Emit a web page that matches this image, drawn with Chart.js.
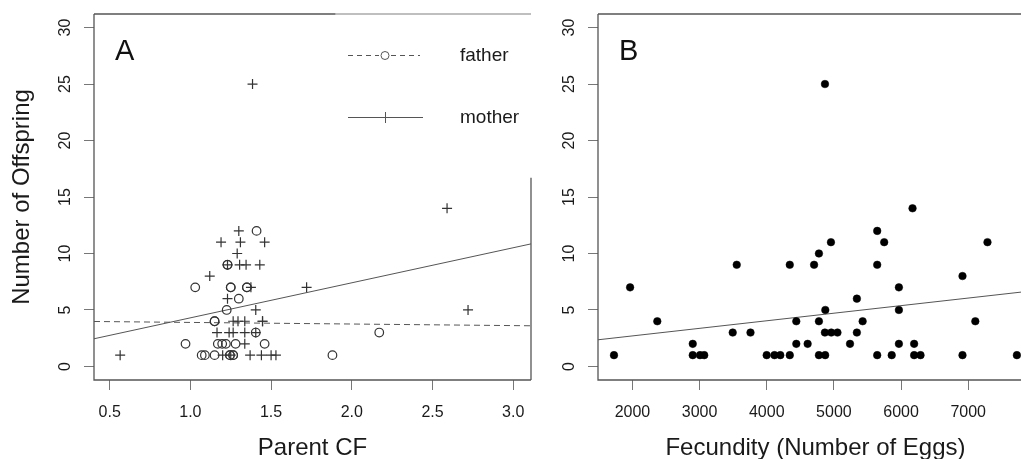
<!DOCTYPE html>
<html><head><meta charset="utf-8">
<script src="https://cdn.jsdelivr.net/npm/chart.js@4.4.1/dist/chart.umd.min.js"></script>
<style>
html,body{margin:0;padding:0;background:#fff;overflow:hidden;width:1021px;height:459px;}
#wrap{position:relative;width:1021px;height:459px;overflow:hidden;background:#fff;}
#cA{position:absolute;left:0;top:0;}
#cB{position:absolute;left:545px;top:0;}
</style></head><body>
<div id="wrap"><canvas id="cA" width="545" height="459"></canvas><canvas id="cB" width="505" height="459"></canvas></div>
<script>
// ---- Panel A data ----
const fatherCF = [1.41, 1.23, 1.23, 1.03, 1.25, 1.25, 1.35, 1.35, 1.30, 1.225, 1.15, 1.15, 1.405, 2.17, 0.97, 1.17, 1.197, 1.22, 1.28, 1.46, 1.07, 1.09, 1.15, 1.245, 1.245, 1.265, 1.265, 1.88];
const fatherOffspring = [12, 9, 9, 7, 7, 7, 7, 7, 6, 5, 4, 4, 3, 3, 2, 2, 2, 2, 2, 2, 1, 1, 1, 1, 1, 1, 1, 1];
const motherCF = [1.385, 2.59, 1.30, 1.19, 1.31, 1.46, 1.29, 1.23, 1.305, 1.345, 1.43, 1.12, 1.375, 1.72, 1.23, 1.405, 2.72, 1.265, 1.295, 1.337, 1.447, 1.447, 1.165, 1.24, 1.265, 1.337, 1.405, 1.337, 0.565, 1.20, 1.25, 1.37, 1.44, 1.50, 1.53];
const motherOffspring = [25, 14, 12, 11, 11, 11, 10, 9, 9, 9, 9, 8, 7, 7, 6, 5, 5, 4, 4, 4, 4, 4, 3, 3, 3, 3, 3, 2, 1, 1, 1, 1, 1, 1, 1];
const fatherFitX = [0.403, 3.11];
const fatherFitY = [3.98, 3.60];
const motherFitX = [0.403, 3.11];
const motherFitY = [2.45, 10.85];
const cfTicks = [0.5, 1.0, 1.5, 2.0, 2.5, 3.0];

// ---- Panel B data ----
const fecundity = [1725, 1965, 2370, 2898, 2898, 3006, 3069, 3493, 3553, 3758, 3999, 4115, 4202, 4343, 4343, 4440, 4440, 4609, 4705, 4777, 4777, 4777, 4867, 4872, 4866, 4870, 4956, 4961, 5053, 5240, 5342, 5342, 5428, 5645, 5645, 5645, 5749, 5861, 5968, 5968, 5968, 6171, 6195, 6195, 6290, 6915, 6915, 7106, 7287, 7725];
const fecundityOffspring = [1, 7, 4, 2, 1, 1, 1, 3, 9, 3, 1, 1, 1, 1, 9, 4, 2, 2, 9, 10, 4, 1, 25, 5, 3, 1, 11, 3, 3, 2, 6, 3, 4, 12, 9, 1, 11, 1, 7, 5, 2, 14, 2, 1, 1, 8, 1, 4, 11, 1];
const fecFitX = [1487, 7965];
const fecFitY = [2.36, 6.70];
const fecTicks = [2000, 3000, 4000, 5000, 6000, 7000];

const offspringTicks = [0, 5, 10, 15, 20, 25, 30];

const FONT = "'Liberation Sans', Arial, Helvetica, sans-serif";
Chart.defaults.font.family = FONT;
Chart.defaults.color = '#1a1a1a';

const pts = (xs, ys) => xs.map((x, i) => ({x, y: ys[i]}));

function yScale(width, showTitle) {
  return {
    type: 'linear', min: -1.2, max: 31.2,
    afterBuildTicks: s => { s.ticks = offspringTicks.map(v => ({value: v})); },
    afterFit: s => { s.width = width; s.paddingTop = 0; s.paddingBottom = 0; },
    ticks: {minRotation: 90, maxRotation: 90, crossAlign: 'center', padding: 10,
      font: {size: 16}, color: '#1a1a1a', callback: v => String(v)},
    grid: {drawOnChartArea: false, drawTicks: true, tickLength: 10, color: '#777', lineWidth: 1},
    border: {display: false},
    title: {display: showTitle, text: 'Number of Offspring', font: {size: 24, lineHeight: 1},
      color: '#1a1a1a', padding: {top: 10, bottom: 0}}
  };
}
function xScale(min, max, ticks, fmt, title) {
  return {
    type: 'linear', min, max,
    afterBuildTicks: s => { s.ticks = ticks.map(v => ({value: v})); },
    afterFit: s => { s.height = 79; s.paddingLeft = 0; s.paddingRight = 0; },
    ticks: {minRotation: 0, maxRotation: 0, autoSkip: false, padding: 13,
      font: {size: 16}, color: '#1a1a1a', callback: fmt},
    grid: {drawOnChartArea: false, drawTicks: true, tickLength: 10, color: '#777', lineWidth: 1},
    border: {display: false},
    title: {display: true, text: title, font: {size: 24, lineHeight: 1}, color: '#1a1a1a',
      padding: {top: 0, bottom: -1}}
  };
}

const boxPlugin = {
  id: 'box',
  afterDraw(chart, args, opts) {
    const {ctx, chartArea: a} = chart;
    ctx.save();
    ctx.lineWidth = 1.3;
    ctx.strokeStyle = '#555';
    ctx.beginPath();
    ctx.moveTo(a.left, a.top); ctx.lineTo(a.left, a.bottom); ctx.lineTo(a.right, a.bottom);
    ctx.stroke();
    if (opts.partial) {
      const xs = chart.scales.x.getPixelForValue(1.9);
      ctx.beginPath(); ctx.moveTo(a.left, a.top); ctx.lineTo(xs, a.top); ctx.stroke();
      ctx.strokeStyle = '#aaa';
      ctx.beginPath(); ctx.moveTo(xs, a.top); ctx.lineTo(a.right, a.top); ctx.stroke();
      ctx.strokeStyle = '#555';
      const ys = chart.scales.y.getPixelForValue(16.7);
      ctx.beginPath(); ctx.moveTo(a.right, ys); ctx.lineTo(a.right, a.bottom); ctx.stroke();
    } else {
      ctx.beginPath(); ctx.moveTo(a.left, a.top); ctx.lineTo(a.right, a.top); ctx.lineTo(a.right, a.bottom); ctx.stroke();
    }
    // panel letter
    ctx.fillStyle = '#111';
    ctx.font = `29px ${FONT}`;
    ctx.textBaseline = 'alphabetic';
    ctx.textAlign = 'left';
    ctx.fillText(opts.letter, a.left + 21, 60);
    ctx.restore();
  }
};

const legendPlugin = {
  id: 'customLegend',
  afterDraw(chart) {
    const {ctx} = chart;
    ctx.save();
    ctx.strokeStyle = '#555';
    ctx.lineWidth = 1;
    // father
    ctx.setLineDash([5, 4]);
    ctx.beginPath(); ctx.moveTo(348, 55.5); ctx.lineTo(379, 55.5); ctx.moveTo(391, 55.5); ctx.lineTo(420, 55.5); ctx.stroke();
    ctx.setLineDash([]);
    ctx.beginPath(); ctx.arc(385, 55.5, 4, 0, Math.PI * 2); ctx.stroke();
    // mother
    ctx.beginPath(); ctx.moveTo(348, 117.5); ctx.lineTo(423, 117.5); ctx.stroke();
    ctx.beginPath(); ctx.moveTo(385.5, 112); ctx.lineTo(385.5, 123); ctx.stroke();
    ctx.fillStyle = '#1a1a1a';
    ctx.font = `19px ${FONT}`;
    ctx.textBaseline = 'middle';
    ctx.fillText('father', 460, 56);
    ctx.fillText('mother', 460, 118);
    ctx.restore();
  }
};

const common = {
  responsive: false, animation: false, events: [],
  plugins: {legend: {display: false}, tooltip: {enabled: false}}
};

new Chart(document.getElementById('cA'), {
  type: 'scatter',
  data: {datasets: [
    {label: 'father', data: pts(fatherCF, fatherOffspring), pointStyle: 'circle', pointRadius: 4.3,
      borderColor: '#333', backgroundColor: 'rgba(0,0,0,0)', borderWidth: 1.2},
    {label: 'mother', data: pts(motherCF, motherOffspring), pointStyle: 'cross', pointRadius: 5,
      borderColor: '#333', borderWidth: 1.2},
    {label: 'father fit', data: pts(fatherFitX, fatherFitY), showLine: true, pointRadius: 0,
      borderColor: '#555', borderWidth: 1, borderDash: [6, 4]},
    {label: 'mother fit', data: pts(motherFitX, motherFitY), showLine: true, pointRadius: 0,
      borderColor: '#555', borderWidth: 1}
  ]},
  options: Object.assign({}, common, {
    layout: {padding: {left: 0, top: 14, right: 14, bottom: 0}},
    scales: {
      x: xScale(0.403, 3.11, cfTicks, v => Number(v).toFixed(1), 'Parent CF'),
      y: yScale(94, true)
    },
    plugins: Object.assign({}, common.plugins, {box: {letter: 'A', partial: true}})
  }),
  plugins: [boxPlugin, legendPlugin]
});

new Chart(document.getElementById('cB'), {
  type: 'scatter',
  data: {datasets: [
    {label: 'fecundity', data: pts(fecundity, fecundityOffspring), pointStyle: 'circle', pointRadius: 3.8,
      borderColor: '#000', backgroundColor: '#000', borderWidth: 0.5},
    {label: 'fit', data: pts(fecFitX, fecFitY), showLine: true, pointRadius: 0,
      borderColor: '#555', borderWidth: 1}
  ]},
  options: Object.assign({}, common, {
    layout: {padding: {left: 0, top: 14, right: 17, bottom: 0}},
    scales: {
      x: xScale(1487, 7965, fecTicks, v => String(v), 'Fecundity (Number of Eggs)'),
      y: yScale(53, false)
    },
    plugins: Object.assign({}, common.plugins, {box: {letter: 'B', partial: false}})
  }),
  plugins: [boxPlugin]
});
</script>
</body></html>
